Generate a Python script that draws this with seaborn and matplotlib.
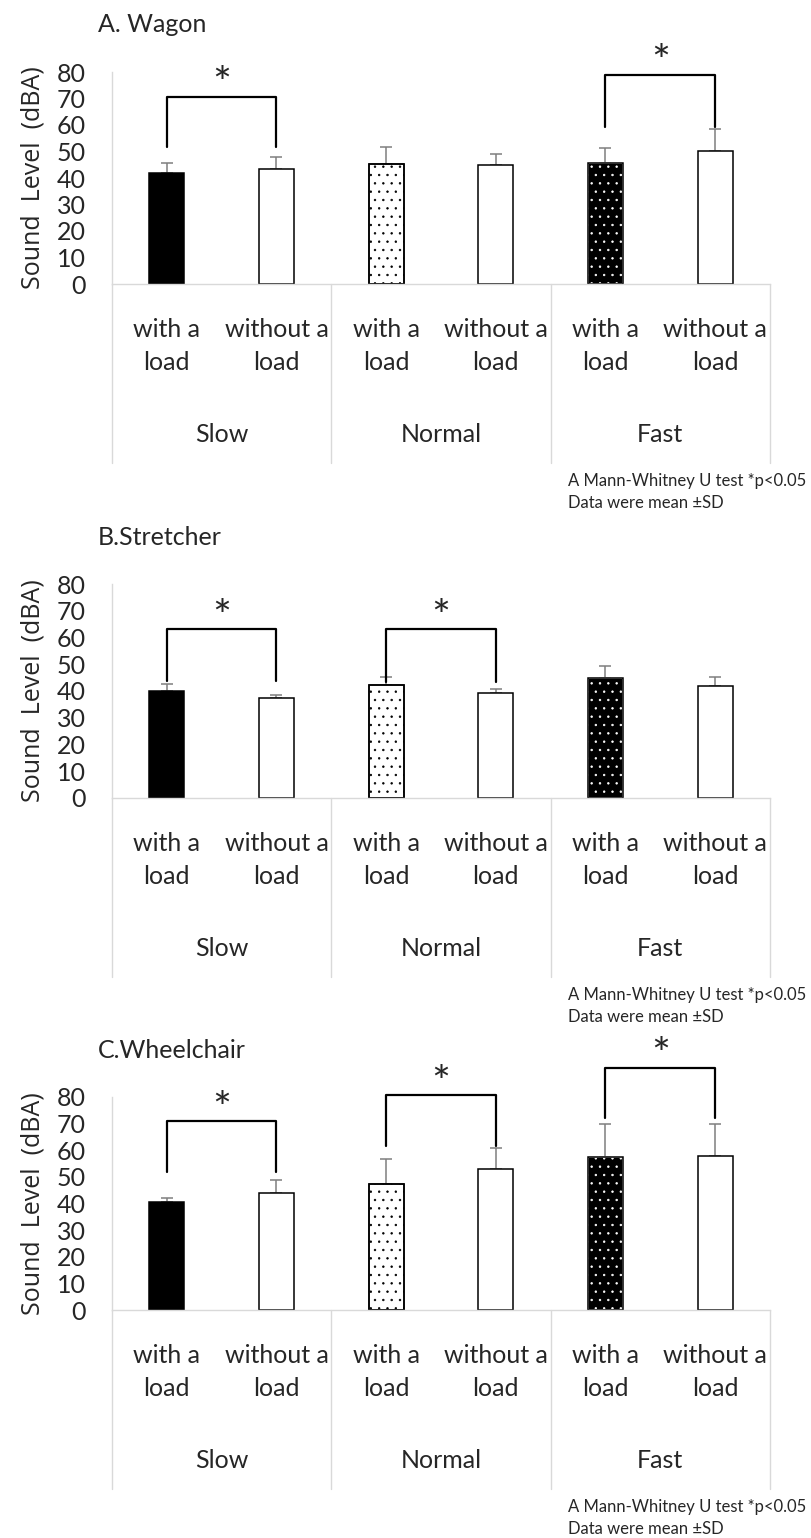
import seaborn as sns
import matplotlib.pyplot as plt
import pandas as pd
from matplotlib.patches import Rectangle

# bars in order: Slow/with, Slow/without, Normal/with, Normal/without, Fast/with, Fast/without
speeds = ["Slow", "Normal", "Fast"]
loads = ["with a\nload", "without a\nload"]
bar_keys = ["Slow-with", "Slow-without", "Normal-with", "Normal-without", "Fast-with", "Fast-without"]

wagon_mean = [42.0, 43.3, 45.4, 44.8, 45.5, 50.2]
wagon_sd = [3.8, 4.8, 6.3, 4.1, 5.9, 8.2]
stretcher_mean = [40.0, 37.5, 42.1, 39.1, 44.8, 42.0]
stretcher_sd = [2.5, 1.0, 3.3, 1.8, 4.6, 3.1]
wheelchair_mean = [40.4, 43.8, 47.5, 52.8, 57.3, 57.7]
wheelchair_sd = [1.5, 5.2, 9.1, 8.0, 12.5, 12.1]

# significance brackets: (bar i, bar j, bracket top, leg bottom)
wagon_sig = [(0, 1, 70.7, 51.7), (4, 5, 79.0, 59.2)]
stretcher_sig = [(0, 1, 63.0, 43.8), (2, 3, 63.0, 43.5)]
wheelchair_sig = [(0, 1, 71.0, 52.0), (2, 3, 80.7, 61.5), (4, 5, 91.0, 72.0)]

titles = ["A. Wagon", "B.Stretcher", "C.Wheelchair"]
yticks = [0, 10, 20, 30, 40, 50, 60, 70, 80]
ylabel = "Sound  Level  (dBA)"
footnote = "A Mann-Whitney U test *p<0.05\nData were mean \u00b1SD"

faces = ["black", "white", "white", "white", "black", "white"]
hatches = [None, None, "..", None, "..", None]
hatch_cols = [None, None, "black", None, "white", None]

sns.set_style("white")
plt.rcParams["font.family"] = ["Lato", "DejaVu Sans"]
plt.rcParams["hatch.linewidth"] = 0.5

W, H = 812, 1538
fig = plt.figure(figsize=(W / 100, H / 100), dpi=100)

panels = [
    (titles[0], wagon_mean, wagon_sd, wagon_sig, 284, 72),
    (titles[1], stretcher_mean, stretcher_sd, stretcher_sig, 798, 584),
    (titles[2], wheelchair_mean, wheelchair_sd, wheelchair_sig, 1310, 1097),
]

grey = "#d9d9d9"
for title, means, sds, sig, base, top in panels:
    axh = base - top
    ax = fig.add_axes([112 / W, 1 - base / H, 658 / W, axh / H])
    df = pd.DataFrame({"bar": bar_keys, "mean": means, "sd": sds})
    sns.barplot(data=df, x="bar", y="mean", order=bar_keys, ax=ax, width=0.32,
                color="white", saturation=1, edgecolor="black", linewidth=1.1,
                errorbar=None)
    bars = list(ax.patches)
    for p, fc, ht, hc in zip(bars, faces, hatches, hatch_cols):
        p.set_facecolor(fc)
        if ht:
            p.set_hatch(ht)
            p.set_edgecolor(hc)
            ax.add_patch(Rectangle(p.get_xy(), p.get_width(), p.get_height(),
                                   fill=False, ec="black", lw=1.1, zorder=p.get_zorder() + 0.1))
    ax.errorbar(range(len(bar_keys)), df["mean"], yerr=[[0] * len(sds), df["sd"]],
                fmt="none", ecolor="#7f7f7f", elinewidth=1.1, capsize=4, capthick=1.1, zorder=0.5)

    ax.set_ylim(0, 80)
    ax.set_xlim(-0.5, 5.5)
    ax.set_yticks(yticks)
    ax.set_xticks([])
    ax.set_xlabel("")
    ax.tick_params(axis="y", length=0, pad=19, labelsize=18)
    ax.set_ylabel(ylabel, fontsize=18, family=["Open Sans", "DejaVu Sans"])
    ax.yaxis.set_label_coords(-0.101, 0.5)
    for s in ["top", "right"]:
        ax.spines[s].set_visible(False)
    for s in ["left", "bottom"]:
        ax.spines[s].set_color(grey)
        ax.spines[s].set_linewidth(1)

    # category axis below the plot
    tr = ax.get_xaxis_transform()
    for x in [-0.5, 1.5, 3.5, 5.5]:
        ax.plot([x, x], [0, -179 / axh], transform=tr, color=grey, lw=1, clip_on=False)
    for k in range(len(bar_keys)):
        ax.text(k, -62 / axh, loads[k % 2], transform=tr, ha="center", va="center",
                fontsize=18, linespacing=1.5)
    for g, sp in enumerate(speeds):
        ax.text(2 * g + 0.5, -151 / axh, sp, transform=tr, ha="center", va="center", fontsize=18)

    # significance brackets
    for i, j, btop, leg in sig:
        ax.plot([i, i, j, j], [leg, btop, btop, leg], color="black", lw=1.6, clip_on=False)
        ax.text((i + j) / 2, btop - 0.6, "*", ha="center", va="baseline", fontsize=32)

    fig.text(98 / W, 1 - (base - 260) / H, title, ha="left", va="center", fontsize=18)
    fig.text(806 / W, 1 - (base + 189) / H, footnote, ha="right", va="top",
             multialignment="left", fontsize=12, linespacing=1.45)

plt.savefig("out.png", dpi=100)
